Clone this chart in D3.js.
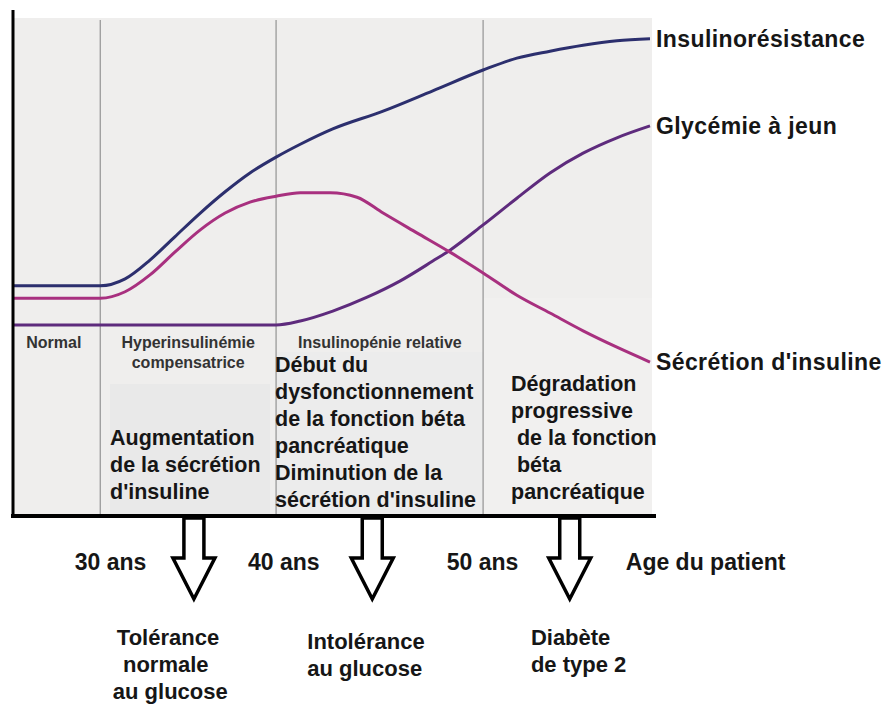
<!DOCTYPE html>
<html>
<head>
<meta charset="utf-8">
<script src="https://cdn.jsdelivr.net/npm/d3@7"></script>
<style>
  body { margin: 0; background: #fff; }
  text { font-family: "Liberation Sans", Arial, sans-serif; font-weight: bold; fill: #161616; }
  .stage { font-family: "Liberation Sans Narrow", "Arial Narrow", "Liberation Sans", sans-serif; font-stretch: condensed; fill: #333; }
</style>
</head>
<body>
<div id="chart"></div>
<script>
// time axis runs 0..100 (stages), level axis 0..100
var stageBounds = [13.7, 41.3, 73.8];
var stageNames = [["Normal"], ["Hyperinsulinémie", "compensatrice"], ["Insulinopénie relative"]];
var stageCenters = [6.4, 27.5, 57.6];

var insulinoresistance = [[0,46.3],[13.7,46.3],[17.6,47.7],[21.5,51.5],[25.4,56.2],[29.4,61],[33.3,65.3],
  [37.2,69.1],[41.3,72.3],[45.1,74.9],[50.2,78],[58.1,81.6],[65.9,85.7],[73.8,89.9],[79.1,92.3],
  [84.3,93.7],[89.5,94.9],[94.8,95.8],[100,96.2]];
var secretion = [[0,43.8],[13.7,43.8],[17.6,45.1],[21.5,48.5],[25.4,53.1],[29.4,57.6],[33.3,61],[37.2,63.2],
  [41.3,64.4],[45.1,65.1],[49.8,65.1],[54,64.2],[58.1,61],[63.4,57],[68.6,53.1],[73.8,48.9],[79.1,44.4],
  [84.3,40.8],[89.5,37.2],[94.8,33.9],[100,30.9]];
var glycemie = [[0,38.4],[41.3,38.4],[45.1,39.2],[50.2,41.2],[55.6,44],[60.8,47.3],[65.9,51.3],[68.6,53.5],
  [73.8,58.6],[79.1,64],[84.3,69.1],[89.5,73.1],[94.8,76.2],[100,78.6]];

var seriesNames = ["Insulinorésistance", "Glycémie à jeun", "Sécrétion d'insuline"];
var seriesColors = ["#2c2f6e", "#5e2b7d", "#a8307f"];

var ageLabels = ["30 ans", "40 ans", "50 ans", "Age du patient"];
var agePos = [9.7, 36.9, 68.1, 96.2];
var arrowPos = [28.4, 56.4, 87.4];
var outcomes = [["Tolérance", " normale", "au glucose"], ["Intolérance", "au glucose"], ["Diabète", "de type 2"]];
var outcomePos = [16.3, 46.2, 81.3];

var boxTexts = [
  ["Augmentation", "de la sécrétion", "d'insuline"],
  ["Début du", "dysfonctionnement", "de la fonction béta", "pancréatique", "Diminution de la", "sécrétion d'insuline"],
  ["Dégradation", "progressive", " de la fonction", " béta", "pancréatique"]
];

var width = 888, height = 704;
var x = d3.scaleLinear().domain([0, 100]).range([13, 650]);
var y = d3.scaleLinear().domain([0, 100]).range([515, 20]);

var svg = d3.select("#chart").append("svg")
    .attr("width", width)
    .attr("height", height);

// grey panel
svg.append("rect")
    .attr("x", x(0)).attr("y", y(100) - 2)
    .attr("width", x(100) - x(0) + 2).attr("height", y(0) - y(100) + 2)
    .attr("fill", "#efeeed");

// text boxes (slightly different shade)
svg.append("rect").attr("x", 110).attr("y", 384).attr("width", 160).attr("height", 130).attr("fill", "#e9e9e9");
svg.append("rect").attr("x", x(stageBounds[1])).attr("y", 352).attr("width", x(stageBounds[2]) - x(stageBounds[1])).attr("height", 162).attr("fill", "#ececec");
svg.append("rect").attr("x", x(stageBounds[2])).attr("y", 298).attr("width", x(100) - x(stageBounds[2]) + 2).attr("height", 216).attr("fill", "#f1f0ef");

// stage dividers
svg.selectAll(".div")
    .data(stageBounds)
  .enter().append("line")
    .attr("x1", d => x(d)).attr("x2", d => x(d))
    .attr("y1", y(100)).attr("y2", y(0))
    .attr("stroke", "#9a9a9a").attr("stroke-width", 1.3);

// curves
var line = d3.line()
    .x(d => x(d[0]))
    .y(d => y(d[1]))
    .curve(d3.curveMonotoneX);

var allSeries = [insulinoresistance, glycemie, secretion];
allSeries.forEach(function(s, i) {
  svg.append("path")
      .datum(s)
      .attr("fill", "none")
      .attr("stroke", seriesColors[i])
      .attr("stroke-width", 3)
      .attr("d", line);
  var last = s[s.length - 1];
  svg.append("text")
      .attr("x", x(last[0]) + 6)
      .attr("y", y(last[1]))
      .attr("dy", "0.36em")
      .style("font-size", "23px")
      .style("letter-spacing", "0.4px")
      .text(seriesNames[i]);
});

// stage labels
stageNames.forEach(function(lines, i) {
  lines.forEach(function(t, j) {
    svg.append("text")
        .attr("class", "stage")
        .attr("x", x(stageCenters[i]))
        .attr("y", 348 + j * 20)
        .attr("text-anchor", "middle")
        .style("font-size", "16px")
        .text(t);
  });
});

// box texts
var boxX = [110, 275, 511];
var boxY = [445, 372, 391];
boxTexts.forEach(function(lines, i) {
  lines.forEach(function(t, j) {
    svg.append("text")
        .attr("x", boxX[i])
        .attr("y", boxY[i] + j * 27)
        .style("font-size", "21.5px")
        .style("white-space", "pre")
        .attr("xml:space", "preserve")
        .text(t);
  });
});

// axes
svg.append("line")
    .attr("x1", x(0)).attr("x2", x(0))
    .attr("y1", 10).attr("y2", y(0) + 3)
    .attr("stroke", "#000").attr("stroke-width", 3);
svg.append("line")
    .attr("x1", x(0) - 2).attr("x2", x(100) + 6)
    .attr("y1", y(0) + 1).attr("y2", y(0) + 1)
    .attr("stroke", "#000").attr("stroke-width", 4);

// hollow arrows
var arrowShape = [[-10, 0], [10, 0], [10, 40], [21, 40], [0, 81], [-21, 40], [-10, 40]];
arrowPos.forEach(function(p) {
  svg.append("path")
      .attr("transform", "translate(" + x(p) + "," + (y(0) + 3) + ")")
      .attr("d", d3.line()(arrowShape) + "Z")
      .attr("fill", "#fff")
      .attr("stroke", "#000")
      .attr("stroke-width", 3.5)
      .attr("stroke-linejoin", "miter");
});

// age labels
ageLabels.forEach(function(t, i) {
  svg.append("text")
      .attr("x", x(agePos[i]))
      .attr("y", 570)
      .style("font-size", "23px")
      .text(t);
});

// outcome labels
var outcomeY = [645, 649, 645];
outcomes.forEach(function(lines, i) {
  lines.forEach(function(t, j) {
    svg.append("text")
        .attr("x", x(outcomePos[i]) + (i === 0 && j === 2 ? -4 : 0))
        .attr("y", outcomeY[i] + j * 27)
        .style("font-size", "22px")
        .attr("xml:space", "preserve")
        .style("white-space", "pre")
        .text(t);
  });
});
</script>
</body>
</html>
